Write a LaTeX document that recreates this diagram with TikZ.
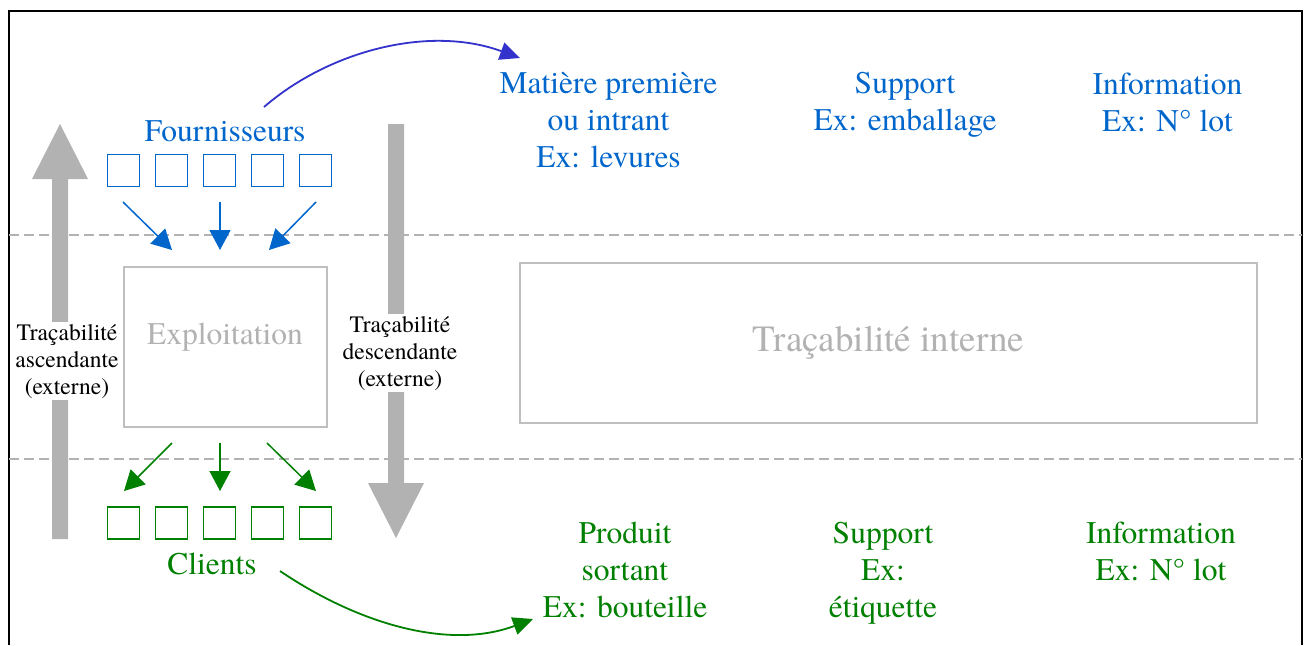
\documentclass[tikz,border=0pt]{standalone}
\usepackage{fontspec}
\setmainfont{TeX Gyre Termes}
\usetikzlibrary{arrows.meta}
\definecolor{tblue}{HTML}{0066CC}
\definecolor{tgreen}{HTML}{008000}
\definecolor{tviolet}{HTML}{3333CC}
\definecolor{tgray}{HTML}{B2B2B2}
\definecolor{tbox}{HTML}{BFBFBF}
\tikzset{
  bigtxt/.style={font=\fontsize{31.5}{37}\selectfont, align=center, inner sep=0pt},
  smalltxt/.style={font=\fontsize{23.5}{27}\selectfont, align=center, inner xsep=3pt, inner ysep=2pt, fill=white, text=black},
  sq/.style={draw, line width=1.5pt, minimum size=32pt, inner sep=0pt},
  sarrow/.style={line width=1.5pt, -{Triangle[length=20pt,width=21pt]}},
  carrow/.style={line width=1.8pt, -{Triangle[length=20pt,width=18pt]}},
  sepline/.style={draw=tgray, line width=1.5pt, dash pattern=on 10pt off 5pt},
  bigarrow/.style={fill=tgray},
  graybox/.style={draw=tbox, line width=1.3pt, inner sep=0pt}
}
\begin{document}
\begin{tikzpicture}[x=1pt,y=-1pt]
\useasboundingbox (0,0) rectangle (1305,645);
% frame
\draw[line width=1.3pt] (9,645) -- (9,11) -- (1302,11) -- (1302,645);
% separators
\draw[sepline] (9,235) -- (1302,235);
\draw[sepline] (9,459) -- (1302,459);
% big grey arrows
\fill[bigarrow] (52,539) -- (52,179) -- (32,179) -- (60,124) -- (88,179) -- (68,179) -- (68,539) -- cycle;
\fill[bigarrow] (388,124) -- (388,483) -- (368,483) -- (396,538) -- (424,483) -- (404,483) -- (404,124) -- cycle;
% side texts
\node[smalltxt, anchor=north] (asc) at (67,322) {Traçabilité\\ascendante\\(externe)};
\node[smalltxt, anchor=north] (desc) at (400,314) {Traçabilité\\descendante\\(externe)};
% suppliers
\node[bigtxt, text=tblue] (fourn) at (225,131) {Fournisseurs};
\foreach \i in {0,...,4} \node[sq, draw=tblue] (f\i) at ({123.5+48*\i},170.5) {};
% exploitation
\node[graybox, minimum width=203pt, minimum height=160pt] (expl) at (225.5,347) {};
\node[bigtxt, text=tgray] (explt) at (225,337) {Exploitation};
% clients
\foreach \i in {0,...,4} \node[sq, draw=tgreen] (c\i) at ({123.5+48*\i},523) {};
\node[bigtxt, text=tgreen] (clients) at (212,564) {Clients};
% small arrows
\coordinate (fa1) at (123,202); \coordinate (fb1) at (172,250);
\coordinate (fa2) at (220,202); \coordinate (fb2) at (220,250);
\coordinate (fa3) at (316,202); \coordinate (fb3) at (269,250);
\draw[sarrow, tblue] (fa1) -- (fb1);
\draw[sarrow, tblue] (fa2) -- (fb2);
\draw[sarrow, tblue] (fa3) -- (fb3);
\coordinate (ca1) at (172,443); \coordinate (cb1) at (124,491);
\coordinate (ca2) at (220,443); \coordinate (cb2) at (220,491);
\coordinate (ca3) at (267,443); \coordinate (cb3) at (316,491);
\draw[sarrow, tgreen] (ca1) -- (cb1);
\draw[sarrow, tgreen] (ca2) -- (cb2);
\draw[sarrow, tgreen] (ca3) -- (cb3);
% internal traceability
\node[graybox, minimum width=737pt, minimum height=160pt, font=\fontsize{37}{44}\selectfont, text=tgray] (interne) at (888.5,343) {Traçabilité interne};
% top texts
\node[bigtxt, text=tblue, anchor=north] (mat) at (608.5,72.5) {Matière première\\ou intrant\\Ex: levures};
\node[bigtxt, text=tblue, anchor=north] (sup1) at (905,72.5) {Support\\Ex: emballage};
\node[bigtxt, text=tblue, anchor=north] (inf1) at (1167.5,72.5) {Information\\Ex: N° lot};
% bottom texts
\node[bigtxt, text=tgreen, anchor=north] (prod) at (625,521.5) {Produit\\sortant\\Ex: bouteille};
\node[bigtxt, text=tgreen, anchor=north] (sup2) at (883,521.5) {Support\\Ex:\\étiquette};
\node[bigtxt, text=tgreen, anchor=north] (inf2) at (1161,521.5) {Information\\Ex: N° lot};
% curved arrows
\coordinate (bs) at (264,107); \coordinate (be) at (520,58);
\draw[carrow, tviolet] (bs) .. controls (330,50) and (430,25) .. (be);
\coordinate (gs) at (280,571); \coordinate (ge) at (533,619);
\draw[carrow, tgreen] (gs) .. controls (360,625) and (450,650) .. (ge);
\end{tikzpicture}
\end{document}
